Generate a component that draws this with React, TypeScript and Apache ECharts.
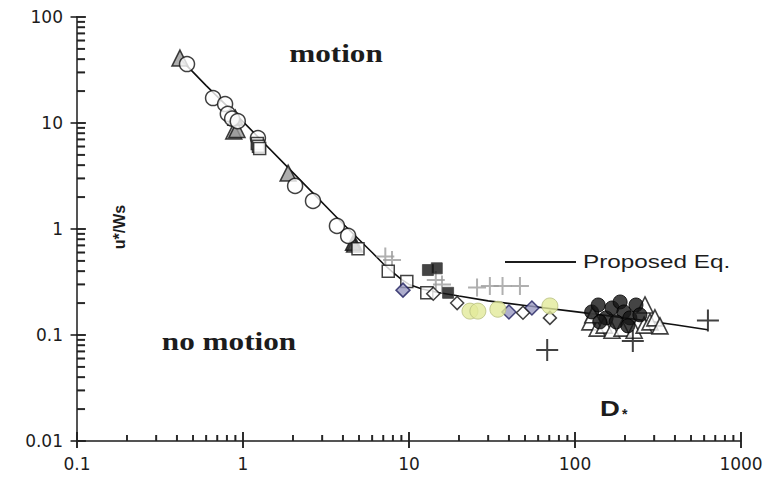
import React, { useEffect, useRef } from "react";
import * as echarts from "echarts";

// Proposed equation curve: D* versus u*/Ws
const curveD = [0.42, 0.6, 1.0, 2.0, 4.0, 6.0, 7.0, 8.0, 9.0, 10, 12, 15, 20, 30, 50, 100, 200, 400, 630];
const curveU = [40, 22.5, 10.3, 3.4, 1.12, 0.6, 0.47, 0.39, 0.335, 0.3, 0.272, 0.252, 0.233, 0.21, 0.19, 0.166, 0.145, 0.125, 0.112];

// Observations, one list per data set: [D*, u*/Ws]
const openCircles = [
  [0.46, 36], [0.66, 17.2], [0.78, 15.1], [0.81, 12.2], [0.86, 11.0], [0.93, 10.4],
  [1.23, 7.2], [2.06, 2.55], [2.64, 1.84], [3.68, 1.07], [4.3, 0.86],
];
const grayTriangles = [
  [0.417, 41], [0.88, 8.4], [0.92, 8.7], [1.87, 3.37], [4.7, 0.72],
];
const darkTriangles = [[0.9, 11.2], [4.6, 0.74]];
const openSquares = [
  [1.22, 6.4], [1.24, 6.05], [1.26, 5.75], [4.93, 0.65], [7.5, 0.4], [9.7, 0.32], [12.8, 0.25],
];
const grayPluses = [
  [7.2, 0.55], [7.9, 0.51], [14.5, 0.33], [15.8, 0.3], [25.7, 0.28], [30.7, 0.29], [36.6, 0.29], [46.6, 0.29],
];
const blackSquares = [[13.0, 0.41], [14.7, 0.426], [17.2, 0.25]];
const navyDiamonds = [[9.2, 0.265], [40, 0.165], [55, 0.18]];
const openDiamonds = [[14, 0.245], [19.5, 0.2], [48.6, 0.162], [70.6, 0.145]];
const yellowCircles = [[23.3, 0.168], [26, 0.168], [34.3, 0.175], [70.6, 0.188]];
const blackCircles = [
  [126, 0.165], [138, 0.192], [154, 0.145], [167, 0.18], [187, 0.205], [197, 0.165],
  [214, 0.145], [233, 0.192], [246, 0.155], [177, 0.133], [141, 0.133], [208, 0.122],
];
const openTriangles = [
  [123, 0.133], [136, 0.116], [150, 0.124], [167, 0.111], [192, 0.116], [227, 0.111],
  [261, 0.124], [283, 0.133], [264, 0.192], [303, 0.145], [325, 0.122], [128, 0.155],
];
const blackPluses = [[68, 0.072], [223, 0.088], [632, 0.137]];

// Axis ticks and labels
const xMajorTicks = [0.1, 1, 10, 100, 1000];
const xTickLabels = ["0.1", "1", "10", "100", "1000"];
const yMajorTicks = [0.01, 0.1, 1, 10, 100];
const yTickLabels = ["0.01", "0.1", "1", "10", "100"];
const xMinorTicks = [
  0.2, 0.3, 0.4, 0.5, 0.6, 0.7, 0.8, 0.9,
  2, 3, 4, 5, 6, 7, 8, 9,
  20, 30, 40, 50, 60, 70, 80, 90,
  200, 300, 400, 500, 600, 700, 800, 900,
];
const yMinorTicks = [
  0.02, 0.03, 0.04, 0.05, 0.06, 0.07, 0.08, 0.09,
  0.2, 0.3, 0.4, 0.5, 0.6, 0.7, 0.8, 0.9,
  2, 3, 4, 5, 6, 7, 8, 9,
  20, 30, 40, 50, 60, 70, 80, 90,
];

const X_MIN = 0.1;
const X_MAX = 1000;
const Y_MIN = 0.01;
const Y_MAX = 100;
const INK = "#1c1c1c";
const PLUS = "path://M10,0L10,20M0,10L20,10";

function labelFor(values: number[], labels: string[]) {
  return (v: number) => {
    for (let i = 0; i < values.length; i++) {
      if (Math.abs(Math.log10(v) - Math.log10(values[i])) < 1e-6) return labels[i];
    }
    return "";
  };
}

function scatter(name: string, data: number[][], symbol: string, size: number, itemStyle: any, z = 3) {
  return { name, type: "scatter", data, symbol, symbolSize: size, itemStyle, z, silent: true };
}

// Tick marks as small bars anchored on the axes through their log scales
function tickBars(data: number[][], size: number[], offset: number[]) {
  return {
    type: "scatter",
    data,
    symbol: "rect",
    symbolSize: size,
    symbolOffset: offset,
    itemStyle: { color: "#222" },
    clip: false,
  };
}

// Tick marks as short two-point segments (lengths expressed as ratios on the log axes)
const X_TICK_RATIO = (px: number) => Math.pow(10, px / 166);
const Y_TICK_RATIO = (px: number) => Math.pow(10, px / 106);
function tickSegment(a: number[], b: number[]) {
  return {
    type: "line",
    data: [a, b],
    symbol: "none",
    clip: false,
    silent: true,
    lineStyle: { color: "#222", width: 1.4 },
  };
}

const annotations: any[] = [
  {
    type: "text",
    x: 336,
    y: 53,
    scaleX: 1.2,
    style: { text: "motion", font: "bold 26px 'Liberation Serif'", fill: INK, textAlign: "center", textVerticalAlign: "middle" },
  },
  {
    type: "text",
    x: 229,
    y: 341,
    scaleX: 1.2,
    style: { text: "no motion", font: "bold 26px 'Liberation Serif'", fill: INK, textAlign: "center", textVerticalAlign: "middle" },
  },
  {
    type: "text",
    x: 119,
    y: 227,
    rotation: Math.PI / 2,
    style: { text: "u*/Ws", font: "bold 16px 'Liberation Sans'", fill: INK, textAlign: "center", textVerticalAlign: "middle" },
  },
  {
    type: "text",
    x: 600,
    y: 408,
    scaleX: 1.25,
    style: { text: "D", font: "bold 22px 'Liberation Sans'", fill: INK, textAlign: "left", textVerticalAlign: "middle" },
  },
  {
    type: "text",
    x: 622,
    y: 414,
    style: { text: "*", font: "bold 14px 'Liberation Sans'", fill: INK, textAlign: "left", textVerticalAlign: "middle" },
  },
  {
    type: "line",
    shape: { x1: 505, y1: 262, x2: 576, y2: 262 },
    style: { stroke: INK, lineWidth: 2 },
  },
  {
    type: "text",
    x: 583,
    y: 262,
    scaleX: 1.35,
    style: { text: "Proposed Eq.", font: "18px 'Liberation Sans'", fill: INK, textAlign: "left", textVerticalAlign: "middle" },
  },
];

export default function App() {
  const ref = useRef<HTMLDivElement>(null);

  useEffect(() => {
    if (!ref.current) return;
    const chart = echarts.init(ref.current, null, { renderer: "svg" });

    const axisFont = { fontFamily: "DejaVu Sans", fontSize: 17, color: INK };
    const yBase = Y_MIN * 1.0005;
    const xBase = X_MIN * 1.0005;

    const segments = [
      ...xMinorTicks.map((v) => tickSegment([v, yBase], [v, yBase * Y_TICK_RATIO(6)])),
      ...xMajorTicks.map((v) => tickSegment([v, yBase / Y_TICK_RATIO(7)], [v, yBase * Y_TICK_RATIO(9)])),
      ...yMinorTicks.map((v) => tickSegment([xBase, v], [xBase * X_TICK_RATIO(8), v])),
      ...yMajorTicks.map((v) => tickSegment([xBase / X_TICK_RATIO(6), v], [xBase * X_TICK_RATIO(9), v])),
    ];

    chart.setOption({
      animation: false,
      grid: { left: 77, right: 34, top: 17, bottom: 41 },
      xAxis: {
        type: "log",
        min: X_MIN,
        max: X_MAX,
        axisLine: { lineStyle: { color: INK, width: 1.5 } },
        axisTick: { show: false },
        splitLine: { show: false },
        axisLabel: { ...axisFont, margin: 14, formatter: labelFor(xMajorTicks, xTickLabels) },
      },
      yAxis: {
        type: "log",
        min: Y_MIN,
        max: Y_MAX,
        axisLine: { show: true, lineStyle: { color: INK, width: 1.5 } },
        axisTick: { show: false },
        splitLine: { show: false },
        axisLabel: { ...axisFont, margin: 14, formatter: labelFor(yMajorTicks, yTickLabels) },
      },
      series: [
        tickBars(xMinorTicks.map((v) => [v, yBase]), [2, 6], [0, -3]),
        tickBars(xMajorTicks.map((v) => [v, yBase]), [2, 16], [0, -1]),
        tickBars(yMinorTicks.map((v) => [xBase, v]), [8, 2], [4, 0]),
        tickBars(yMajorTicks.map((v) => [xBase, v]), [15, 2], [1, 0]),
        ...segments,
        {
          name: "Proposed Eq.",
          type: "line",
          data: curveD.map((d, i) => [d, curveU[i]]),
          symbol: "none",
          lineStyle: { color: "#111", width: 1.6 },
          z: 2,
          silent: true,
        },
        scatter("grayTriangles", grayTriangles, "triangle", 16, { color: "#9a9a9a", borderColor: "#111", borderWidth: 1.5 }),
        scatter("darkTriangles", darkTriangles, "triangle", 15, { color: "#333", borderColor: "#111", borderWidth: 1.5 }),
        scatter("openCircles", openCircles, "circle", 15, { color: "#fff", borderColor: "#111", borderWidth: 1.5 }, 4),
        scatter("openSquares", openSquares, "rect", 12, { color: "#fff", borderColor: "#111", borderWidth: 1.5 }, 4),
        scatter("grayPluses", grayPluses, PLUS, 18, { color: "rgba(0,0,0,0)", borderColor: "#9c9c9c", borderWidth: 2 }, 3),
        scatter("blackSquares", blackSquares, "rect", 11, { color: "#151515", borderColor: "#444", borderWidth: 1 }, 5),
        scatter("navyDiamonds", navyDiamonds, "diamond", 14, { color: "#9a9ac0", borderColor: "#1e1e5e", borderWidth: 1.5 }, 5),
        scatter("openDiamonds", openDiamonds, "diamond", 13, { color: "#fff", borderColor: "#111", borderWidth: 1.5 }, 5),
        scatter("yellowCircles", yellowCircles, "circle", 16, { color: "#e2ea9a", borderColor: "#b8bf80", borderWidth: 1 }, 6),
        scatter("openTriangles", openTriangles, "triangle", 16, { color: "#fff", borderColor: "#111", borderWidth: 1.6 }, 5),
        scatter("blackCircles", blackCircles, "circle", 14, { color: "#151515", borderColor: "#000", borderWidth: 1 }, 6),
        scatter("blackPluses", blackPluses, PLUS, 22, { color: "rgba(0,0,0,0)", borderColor: "#111", borderWidth: 2 }, 6),
      ],
    });

    chart.setOption({ graphic: annotations });

    return () => chart.dispose();
  }, []);

  return <div ref={ref} style={{ position: "fixed", left: 0, top: 0, width: 775, height: 482, background: "#fff" }} />;
}
